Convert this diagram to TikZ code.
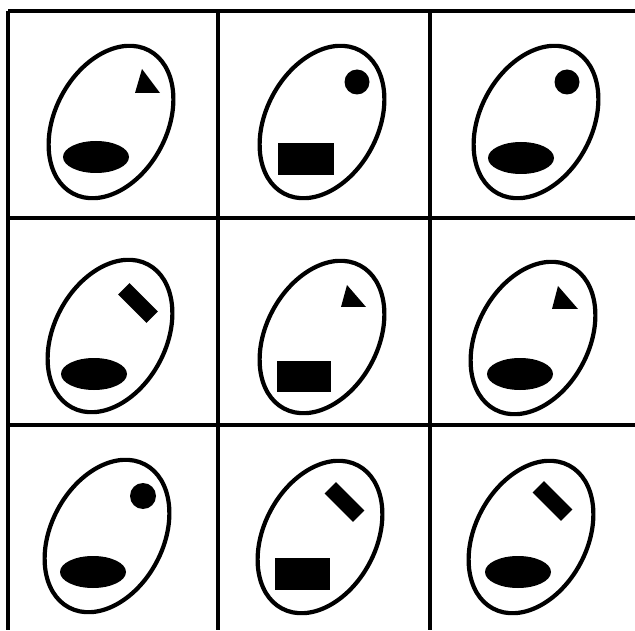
\documentclass[tikz,border=0pt]{standalone}
\usepackage{tikz}

\begin{document}
\begin{tikzpicture}[
    x=0.03cm,y=0.03cm,
    frame/.style={draw=black,line width=2.6pt},
    egg/.style={draw=black,line width=3.6pt},
    solid/.style={fill=black}
]
\useasboundingbox (0,0) rectangle (635,630);

% grid
\foreach \gx in {8,218,430} {
  \draw[frame] (\gx,619) -- (\gx,0);
}
\foreach \gy in {619,412,205} {
  \draw[frame] (8,\gy) -- (635,\gy);
}

% outlines
\foreach \cx/\cy in {111/508,322/508,536/508,110/294,322/293,533/292,107/94,320/93,531/93} {
  \draw[egg,rotate around={62:(\cx,\cy)}] (\cx,\cy) ellipse [x radius=81,y radius=56];
}

% row 1
\fill[solid] (135,537) -- ++(7,24) -- ++(18,-24) -- cycle;
\fill[solid] (96,473) ellipse [x radius=33,y radius=16];
\fill[solid] (357,548) circle [radius=12.5];
\fill[solid] (278,455) rectangle (334,487);
\fill[solid] (567,548) circle [radius=12.5];
\fill[solid] (521,472) ellipse [x radius=33,y radius=16];

% row 2
\fill[solid,rotate around={-45:(138,327)}] (118,319) rectangle (158,335);
\fill[solid] (94,256) ellipse [x radius=33,y radius=16];
\fill[solid] (341,323) -- ++(6,22) -- ++(19,-22) -- cycle;
\fill[solid] (277,238) rectangle (331,269);
\fill[solid] (552,321) -- ++(6,23) -- ++(20,-23) -- cycle;
\fill[solid] (520,256) ellipse [x radius=33,y radius=16];

% row 3
\fill[solid] (143,134) circle [radius=13];
\fill[solid] (93,58) ellipse [x radius=33,y radius=16];
\fill[solid,rotate around={-45:(344.5,128)}] (324.5,120) rectangle (364.5,136);
\fill[solid] (275,40) rectangle (330,72);
\fill[solid,rotate around={-45:(552.5,129)}] (532.5,121) rectangle (572.5,137);
\fill[solid] (518,58) ellipse [x radius=33,y radius=16];
\end{tikzpicture}
\end{document}
